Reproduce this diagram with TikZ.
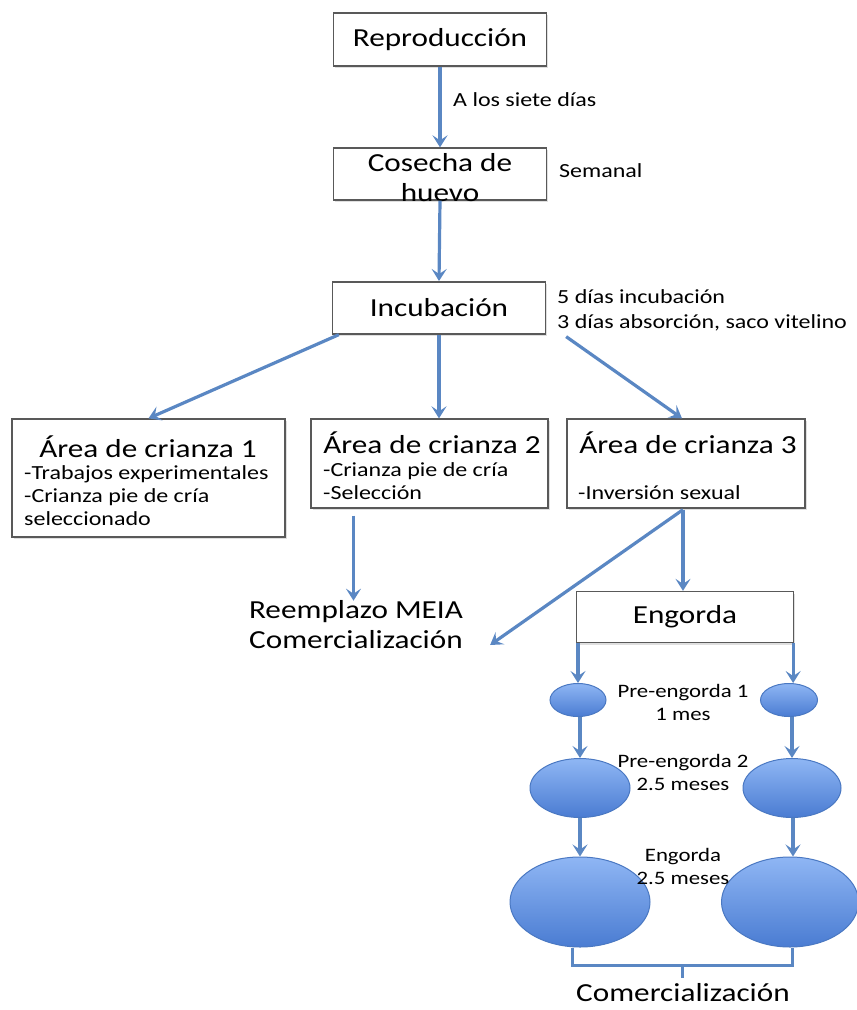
\documentclass[tikz,border=0pt]{standalone}
\usepackage{fontspec}
\setmainfont{Carlito}[FakeStretch=1.2]
\usetikzlibrary{shapes.geometric,arrows.meta,shadows,calc}
\definecolor{arrblue}{HTML}{5A87C3}
\definecolor{eggline}{HTML}{4A78C2}
\definecolor{eggtop}{HTML}{8FB6F4}
\definecolor{eggbot}{HTML}{4A7CD2}
\begin{document}
\begin{tikzpicture}[x=1pt,y=-1pt,
  box/.style={rectangle, draw=black!65, fill=white, line width=1.3pt, inner sep=0pt,
    drop shadow={opacity=0.25,shadow xshift=1.5pt,shadow yshift=-2pt}},
  big/.style={font=\fontsize{26}{30}\selectfont},
  bigtxt/.style={font=\fontsize{26}{30}\selectfont, inner sep=0pt, align=center},
  lab/.style={font=\fontsize{20}{23}\selectfont, inner sep=0pt, align=left},
  clab/.style={font=\fontsize{19}{23}\selectfont, inner sep=0pt, align=center},
  arr/.style={draw=arrblue, line width=3.2pt, -{Stealth[length=12pt,width=15pt,inset=5pt]}},
  ln/.style={draw=arrblue, line width=3pt},
  egg/.style={ellipse, draw=eggline, line width=1pt, top color=eggtop, bottom color=eggbot, inner sep=0pt},
]
\useasboundingbox (0,0) rectangle (857,1010);

% main boxes
\node[box,big,minimum width=213pt,minimum height=53pt] (rep) at (440,39.5) {Reproducción};
\node[box,minimum width=213pt,minimum height=52pt] (cos) at (440,174) {};
\node[bigtxt] (costxt) at (440,178) {Cosecha de\\huevo};
\node[box,big,minimum width=213pt,minimum height=52pt] (inc) at (439,308) {Incubación};

% side labels
\node[lab,anchor=west] (l1) at (453,100) {A los siete días};
\node[lab,anchor=west] (l2) at (559,171) {Semanal};
\node[lab,anchor=west] (l3) at (557,310) {5 días incubación\\[2pt]3 días absorción, saco vitelino};

% area boxes
\node[box,minimum width=273pt,minimum height=118pt] (a1) at (148.5,478) {};
\node[box,minimum width=237pt,minimum height=89pt] (a2) at (429.5,463.5) {};
\node[box,minimum width=238pt,minimum height=89pt] (a3) at (686,463.5) {};

\node[bigtxt] (a1t) at (148,447) {Área de crianza 1};
\node[lab,anchor=west] (a1l) at (24,496) {-Trabajos experimentales\\-Crianza pie de cría\\seleccionado};
\node[bigtxt] (a2t) at (432,443) {Área de crianza 2};
\node[lab,anchor=west] (a2l) at (323,481.5) {-Crianza pie de cría\\-Selección};
\node[bigtxt] (a3t) at (688,443) {Área de crianza 3};
\node[lab,anchor=west] (a3l) at (578,493) {-Inversión sexual};

% reemplazo
\node[bigtxt] (ree) at (356,625) {Reemplazo MEIA\\Comercialización};

% engorda
\node[box,big,minimum width=217pt,minimum height=51pt] (eng) at (685,617) {Engorda};

% eggs
\node[egg,minimum width=56pt,minimum height=33pt] (e1l) at (578,700) {};
\node[egg,minimum width=57pt,minimum height=33pt] (e1r) at (789,700) {};
\node[egg,minimum width=100pt,minimum height=59pt] (e2l) at (580,788) {};
\node[egg,minimum width=98pt,minimum height=59pt] (e2r) at (792,788) {};
\node[egg,minimum width=140pt,minimum height=90pt] (e3l) at (580,902) {};
\node[egg,minimum width=137pt,minimum height=90pt] (e3r) at (790,902) {};

\node[clab] (p1) at (683,702) {Pre-engorda 1\\1 mes};
\node[clab] (p2) at (683,772) {Pre-engorda 2\\2.5 meses};
\node[clab] (p3) at (683,866) {Engorda\\2.5 meses};

\node[bigtxt] (com) at (683,993) {Comercialización};

% connectors
\draw[arr] (rep.south) -- (cos.north);
\draw[arr] (cos.south) -- (inc.north |- 0,281);
\draw[arr] ($(inc.south west)+(7,0)$) -- (a1.north);
\draw[arr] (inc.south) -- (inc.south |- a2.north);
\draw[arr] ($(inc.south east)+(20,2)$) -- ($(a3.north)+(-4,0)$);

\coordinate (a2b) at ($(a2.south)+(-76,7)$);
\draw[arr] (a2b) -- (a2b |- ree.north);
\coordinate (a3b) at ($(a3.south)+(-3,1)$);
\draw[arr] (a3b) -- (a3b |- eng.north);
\draw[arr] (a3b) -- ($(ree.east)+(27,20)$);

\coordinate (engl) at (e1l.north |- eng.south);
\coordinate (engr) at ($(eng.south east)+(-1,0)$);
\coordinate (e1rt) at (engr |- e1r.north);
\draw[arr] (engl) -- (e1l.north);
\draw[arr] (engr) -- (e1rt);

\coordinate (e1lb) at (e2l.north |- e1l.south);
\draw[arr] (e1lb) -- (e2l.north);
\coordinate (e1rb) at ($(e1r.south)+(3,0)$);
\coordinate (e2rt) at (e1rb |- e2r.north);
\draw[arr] (e1rb) -- (e2rt);

\draw[arr] (e2l.south) -- (e3l.north);
\coordinate (e2rb) at ($(e2r.south)+(1,0)$);
\coordinate (e3rt) at (e2rb |- e3r.north);
\draw[arr] (e2rb) -- (e3rt);

\coordinate (bl) at ($(e3l.south)+(-8,0)$);
\coordinate (br) at ($(e3r.south)+(2,0)$);
\coordinate (blb) at ($(bl)+(0,18)$);
\coordinate (brb) at (blb -| br);
\coordinate (bm) at ($(blb)!0.5!(brb)$);
\draw[ln] (bl) -- (blb) -- (brb) -- (br);
\draw[ln] (bm) -- ++(0,12);
\end{tikzpicture}
\end{document}
